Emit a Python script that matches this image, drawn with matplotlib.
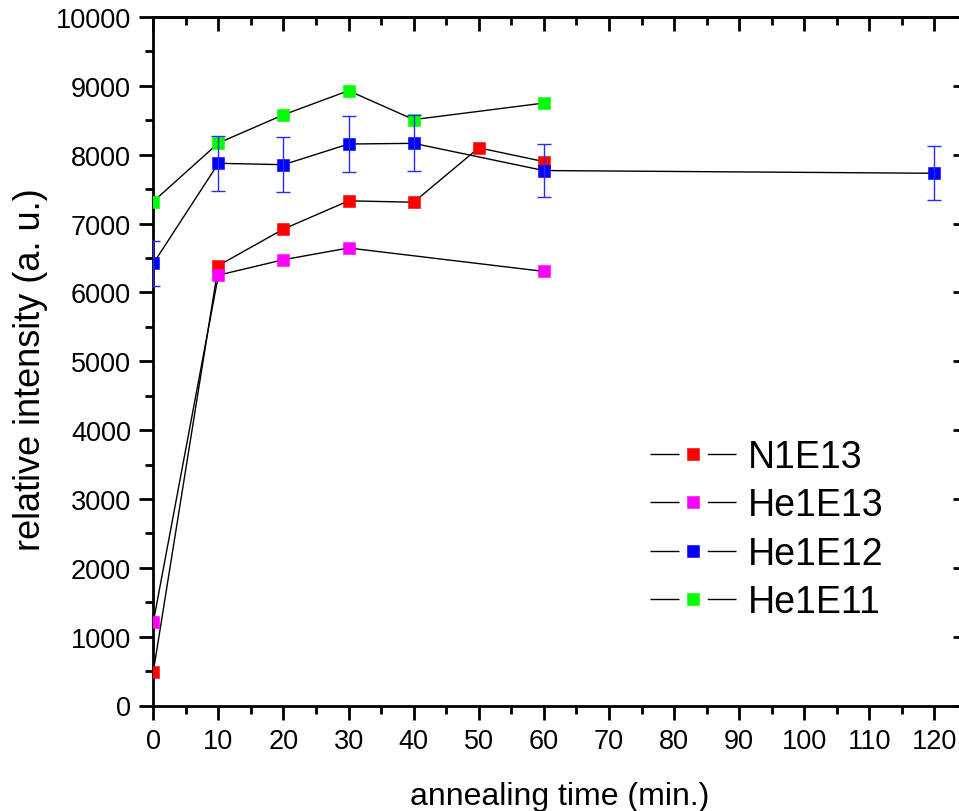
import matplotlib
matplotlib.use('Agg')
import matplotlib.pyplot as plt
from matplotlib.lines import Line2D
from matplotlib.legend_handler import HandlerTuple
from matplotlib.ticker import MultipleLocator

# annealing time (min.) and relative intensity (a. u.) per sample
times_n1e13 = [0, 10, 20, 30, 40, 50, 60]
n1e13 = [490, 6390, 6920, 7330, 7310, 8100, 7900]

times_he1e13 = [0, 10, 20, 30, 60]
he1e13 = [1210, 6250, 6475, 6645, 6305]

times_he1e12 = [0, 10, 20, 30, 40, 60, 120]
he1e12 = [6420, 7875, 7855, 8155, 8165, 7770, 7730]
he1e12_err = [320, 395, 395, 405, 405, 390, 390]

times_he1e11 = [0, 10, 20, 30, 40, 60]
he1e11 = [7320, 8170, 8580, 8930, 8510, 8750]

labels = ['N1E13', 'He1E13', 'He1E12', 'He1E11']
colors = ['#ff0000', '#ff00ff', '#0000ff', '#00ff00']

plt.rcParams['font.family'] = ['Liberation Sans', 'DejaVu Sans']

fig = plt.figure(figsize=(9.59, 8.12), dpi=100)
# right spine sits just past the image edge, like the cropped original
ax = fig.add_axes([153.3 / 959, 105.5 / 812, 813.7 / 959, 688.5 / 812])

ms = 8.6
line_kw = dict(color='black', lw=1.0, zorder=1)
mark_kw = dict(ls='none', marker='s', ms=ms, mew=0.4, zorder=3)

ax.plot(times_n1e13, n1e13, **line_kw)
ax.plot(times_n1e13, n1e13, color=colors[0], mec=colors[0], **mark_kw)

ax.plot(times_he1e13, he1e13, **line_kw)
ax.plot(times_he1e13, he1e13, color=colors[1], mec=colors[1], **mark_kw)

ax.plot(times_he1e11, he1e11, **line_kw)
ax.plot(times_he1e11, he1e11, color=colors[3], mec=colors[3], **mark_kw)

ax.plot(times_he1e12, he1e12, **line_kw)
ax.errorbar(times_he1e12, he1e12, yerr=he1e12_err, fmt='none', ecolor='#2a2aff',
            elinewidth=1.0, capsize=4.8, capthick=1.0, zorder=4)
ax.plot(times_he1e12, he1e12, color=colors[2], mec=colors[2], **mark_kw)

ax.set_xlim(0, 125)
ax.set_ylim(0, 10000)
ax.xaxis.set_major_locator(MultipleLocator(10))
ax.xaxis.set_minor_locator(MultipleLocator(5))
ax.yaxis.set_major_locator(MultipleLocator(1000))
ax.yaxis.set_minor_locator(MultipleLocator(500))
ax.set_xticks(range(0, 121, 10))

for sp in ax.spines.values():
    sp.set_linewidth(2.0)

ax.tick_params(which='both', direction='out', width=2.0, labelsize=19.5, pad=6)
ax.tick_params(which='major', length=10)
ax.tick_params(which='minor', length=5.5)

# inward ticks on the top and right, no labels
top = ax.secondary_xaxis('top')
top.xaxis.set_major_locator(MultipleLocator(10))
top.xaxis.set_minor_locator(MultipleLocator(5))
top.tick_params(which='both', direction='in', width=2.0, labeltop=False)
top.tick_params(which='major', length=10)
top.tick_params(which='minor', length=5.5)
top.spines['top'].set_linewidth(2.0)

right = ax.secondary_yaxis('right')
right.yaxis.set_major_locator(MultipleLocator(1000))
right.yaxis.set_minor_locator(MultipleLocator(500))
right.tick_params(which='both', direction='in', width=2.0, labelright=False)
right.tick_params(which='major', length=10)
right.tick_params(which='minor', length=5.5)
right.spines['right'].set_linewidth(2.0)

ax.set_xlabel('annealing time (min.)', fontsize=23)
ax.set_ylabel('relative intensity (a. u.)', fontsize=26)
ax.xaxis.set_label_coords(0.5, -0.109)
ax.yaxis.set_label_coords(-0.129, 0.49)

# legend entries: short line, gap, square marker, gap, short line
fs_leg = 27
hl = 2.3
seg_on = 29 / 1.389
seg_off = hl * fs_leg - 2 * seg_on
handles = []
for c in colors:
    seg = Line2D([], [], color='black', lw=1.0, ls=(0, (seg_on, seg_off)))
    mk = Line2D([], [], ls='none', marker='s', ms=ms, color=c, mec=c, mew=0.4)
    handles.append((seg, mk))

ax.legend(handles, labels, handler_map={tuple: HandlerTuple(ndivide=1, pad=0)},
          loc='upper left', bbox_to_anchor=(650 / 959, 1 - 440 / 812),
          bbox_transform=fig.transFigure, frameon=False, fontsize=fs_leg,
          handlelength=hl, handletextpad=0.3, labelspacing=0.33,
          borderpad=0, borderaxespad=0)

fig.savefig('out.png', dpi=100)
